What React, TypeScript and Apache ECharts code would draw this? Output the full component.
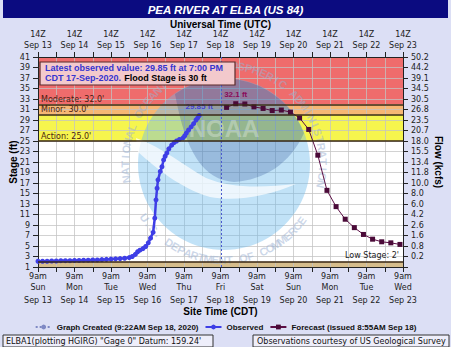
import React, { useEffect, useRef } from 'react';
import * as echarts from 'echarts';

// ---------------- data ----------------
const chartTitle = 'PEA RIVER AT ELBA (US 84)';
const dayNames = ['Sun', 'Mon', 'Tue', 'Wed', 'Thu', 'Fri', 'Sat', 'Sun', 'Mon', 'Tue', 'Wed'];
const dateLabels = ['Sep 13', 'Sep 14', 'Sep 15', 'Sep 16', 'Sep 17', 'Sep 18', 'Sep 19', 'Sep 20', 'Sep 21', 'Sep 22', 'Sep 23'];
const utcHourLabel = '14Z';
const siteHourLabel = '9am';
const flowLabels = ['50.2', '44.2', '39.1', '34.5', '30.5', '26.8', '23.5', '20.7', '18.0', '15.5', '13.4', '11.8', '10.0', '8.0', '6.0', '4.2', '2.6', '1.6', '0.8', '0.2'];

// hours after 9am CDT Sep 13
const observedHours = [0, 3, 6, 9, 12, 15, 18, 21, 24, 27, 30, 33, 36, 39, 42, 45, 48, 51, 54, 57, 60, 62, 64, 65.5, 67, 69, 70.8, 72.5, 74, 75.7, 76.8, 77.6, 78.3, 78.9, 80.4, 81.5, 82.6, 83.6, 84.7, 86, 87.9, 89.5, 91.1, 93, 95.4, 96.5, 97.5, 99, 100.7, 102.3, 103.9, 105, 106];
const observedStage = [2.1, 2.1, 2.1, 2.15, 2.15, 2.2, 2.2, 2.2, 2.25, 2.25, 2.3, 2.3, 2.35, 2.35, 2.4, 2.45, 2.5, 2.55, 2.6, 2.66, 2.8, 3.0, 3.4, 3.9, 4.2, 4.5, 4.9, 5.6, 6.5, 7.6, 10.3, 13.8, 16.0, 17.6, 19.2, 20.1, 21.4, 22.1, 22.7, 23.5, 24.2, 24.7, 25.0, 25.3, 25.6, 26.0, 26.5, 27.1, 27.7, 28.3, 29.0, 29.4, 29.85];
const forecastHours = [124, 130, 136, 142, 148, 154, 160, 166, 172, 178, 184, 190, 196, 202, 208, 214, 220, 226, 232, 238];
const forecastStage = [31.4, 32.1, 32.05, 31.5, 31.2, 30.8, 30.9, 30.5, 29.4, 27.2, 22.3, 15.6, 12.5, 10.1, 8.5, 7.2, 6.3, 5.8, 5.6, 5.3];

const thresholdNames = ['Moderate', 'Minor', 'Action'];
const thresholdStages = [32, 30, 25];
const lowStage = 2;
const floodStage = 30;
const graphCreatedHour = 120.37;
const latestObsText = '7:00 PM';
const latestObsDate = '17-Sep-2020';

const stageMin = 1;
const stageMax = 41;
const stageStep = 2;
const hourMax = 240;
const hourStep = 24;

// ---------------- styles ----------------
const fontV = '"DejaVu Sans", Verdana, sans-serif';
const fontA = '"Liberation Sans", Arial, sans-serif';
const gridColor = 'rgba(195,195,195,0.75)';
const axisColor = '#222';

// watermark shapes
const skyPath = 'M -49 -70 A 86 86 0 0 1 80 -31 C 66 0 40 16 10 18 C -20 16 -38 -10 -49 -70 Z';
const gullPath = 'M -88 -26 C -60 -16 -40 2 -18 14 C 6 24 36 24 72 20 C 44 32 12 38 -14 33 C -44 24 -68 4 -86 -12 Z';
let shapesRegistered = false;
function registerShapes() {
  if (shapesRegistered) return;
  echarts.graphic.registerShape('noaaSky', echarts.graphic.extendPath(skyPath, {}));
  echarts.graphic.registerShape('noaaGull', echarts.graphic.extendPath(gullPath, {}));
  shapesRegistered = true;
}

function arcText(text: string, cx: number, cy: number, R: number, startDeg: number, endDeg: number, top: boolean) {
  const n = text.length;
  const els: any[] = [];
  for (let i = 0; i < n; i++) {
    const ch = text[i];
    if (ch === ' ') continue;
    const deg = startDeg + ((endDeg - startDeg) * (i + 0.5)) / n;
    const t = (deg * Math.PI) / 180;
    els.push({
      type: 'text',
      x: cx + R * Math.cos(t),
      y: cy - R * Math.sin(t),
      rotation: top ? t - Math.PI / 2 : t + Math.PI / 2,
      z: 3,
      silent: true,
      style: {
        text: ch,
        fill: '#9ab0d2',
        opacity: 0.5,
        fontSize: 11,
        fontWeight: 'bold',
        fontFamily: fontA,
        align: 'center',
        verticalAlign: 'middle',
      },
    });
  }
  return els;
}

export default function App() {
  const ref = useRef<HTMLDivElement>(null);

  useEffect(() => {
    if (!ref.current) return;
    registerShapes();
    const chart = echarts.init(ref.current, undefined, { renderer: 'svg' });

    const obsLast = observedStage.length - 1;
    const observedData = observedHours.map((h, i) =>
      i === obsLast
        ? {
            value: [h, observedStage[i]],
            label: {
              show: true,
              formatter: `${observedStage[i]} ft`,
              position: 'top',
              distance: 3,
              color: '#4343d8',
              fontWeight: 'bold',
              fontSize: 8,
              fontFamily: fontA,
            },
          }
        : [h, observedStage[i]]
    );
    const fMax = Math.max(...forecastStage);
    const fMaxIdx = forecastStage.indexOf(fMax);
    const forecastData = forecastHours.map((h, i) =>
      i === fMaxIdx
        ? {
            value: [h, forecastStage[i]],
            label: {
              show: true,
              formatter: `${fMax.toFixed(1)} ft`,
              position: 'top',
              distance: 3,
              color: '#8a0a5a',
              fontWeight: 'bold',
              fontSize: 8,
              fontFamily: fontA,
            },
          }
        : [h, forecastStage[i]]
    );

    const bands = [
      { lo: thresholdStages[0], hi: stageMax, color: '#ef6c6c' },
      { lo: thresholdStages[1], hi: thresholdStages[0], color: '#f6b774' },
      { lo: thresholdStages[2], hi: thresholdStages[1], color: '#f6f54e' },
      { lo: stageMin, hi: lowStage, color: '#d6bd8c' },
    ];

    const thresholdLines: any[] = thresholdStages.map((v, i) => ({
      yAxis: v,
      label: { formatter: `${thresholdNames[i]}: ${v.toFixed(1)}'` },
    }));
    thresholdLines.push({
      yAxis: lowStage,
      label: { formatter: `Low Stage: ${lowStage}'`, position: 'insideEndTop', color: '#222', distance: [4, 2] },
    });

    const wmCx = 224;
    const wmCy = 164;
    const watermark: any[] = [
      { type: 'circle', shape: { cx: wmCx, cy: wmCy, r: 86 }, z: 3, silent: true, style: { fill: '#6bbbec', opacity: 0.42 } },
      { type: 'noaaSky', x: wmCx, y: wmCy, z: 3, silent: true, style: { fill: '#1a3f8a', opacity: 0.24 } },
      { type: 'noaaGull', x: wmCx, y: wmCy, z: 3, silent: true, style: { fill: '#ffffff', opacity: 0.7 } },
      {
        type: 'text', x: wmCx, y: wmCy - 36, z: 3, silent: true,
        style: { text: 'NOAA', fill: '#ffffff', opacity: 0.3, fontSize: 24, fontWeight: 'bold', fontFamily: fontA, align: 'center', verticalAlign: 'middle' },
      },
      ...arcText('NATIONAL OCEANIC AND ATMOSPHERIC ADMINISTRATION', wmCx, wmCy, 99, 191, -14, true),
      ...arcText('U.S. DEPARTMENT OF COMMERCE', wmCx, wmCy, 96, 212, 326, false),
    ];

    const option: any = {
      animation: false,
      backgroundColor: '#dcdff5',
      grid: { left: 36, right: 40, top: 57, bottom: 80, show: true, backgroundColor: '#ffffff', borderWidth: 0 },
      legend: {
        left: 'center',
        top: 318,
        itemWidth: 16,
        itemHeight: 6,
        itemGap: 6,
        selectedMode: false,
        textStyle: { fontFamily: fontA, fontWeight: 'bold', fontSize: 8, color: '#111' },
        data: ['Graph Created (9:22AM Sep 18, 2020)', 'Observed', 'Forecast (issued 8:55AM Sep 18)'],
      },
      xAxis: [
        {
          type: 'value', min: 0, max: hourMax, interval: hourStep, position: 'bottom', z: 2,
          axisLine: { show: true, onZero: false, lineStyle: { color: axisColor, width: 1 } },
          axisTick: { show: true, length: 5, lineStyle: { color: axisColor } },
          minorTick: { show: true, splitNumber: 2, length: 5, lineStyle: { color: axisColor } },
          splitLine: { show: true, lineStyle: { color: gridColor, width: 1 } },
          minorSplitLine: { show: true, lineStyle: { color: gridColor, width: 1 } },
          axisLabel: {
            margin: 4, lineHeight: 11, fontSize: 8, fontFamily: fontV, color: '#222',
            formatter: (v: number) => {
              const i = Math.round(v / hourStep);
              return `${siteHourLabel}\n${dayNames[i]}\n{d|${dateLabels[i]}}`;
            },
            rich: { d: { lineHeight: 14, fontSize: 8, fontFamily: fontV, color: '#222' } },
          },
          name: 'Site Time (CDT)', nameLocation: 'middle', nameGap: 39, nameMoveOverlap: false,
          nameTextStyle: { fontFamily: fontA, fontWeight: 'bold', fontSize: 10, color: '#000' },
        },
        {
          type: 'value', min: 0, max: hourMax, interval: hourStep, position: 'top', z: 2,
          axisLine: { show: true, onZero: false, lineStyle: { color: axisColor, width: 1 } },
          axisTick: { show: true, length: 5, lineStyle: { color: axisColor } },
          minorTick: { show: true, splitNumber: 2, length: 5, lineStyle: { color: axisColor } },
          splitLine: { show: false },
          axisLabel: {
            margin: 6, lineHeight: 11, fontSize: 8, fontFamily: fontV, color: '#222',
            formatter: (v: number) => {
              const i = Math.round(v / hourStep);
              return `${utcHourLabel}\n${dateLabels[i]}`;
            },
          },
          name: 'Universal Time (UTC)', nameLocation: 'middle', nameGap: 28, nameMoveOverlap: false,
          nameTextStyle: { fontFamily: fontA, fontWeight: 'bold', fontSize: 10, color: '#000' },
        },
      ],
      yAxis: [
        {
          type: 'value', min: stageMin, max: stageMax, interval: stageStep, position: 'left', z: 2,
          axisLine: { show: true, onZero: false, lineStyle: { color: axisColor, width: 1 } },
          axisTick: { show: true, length: 5, lineStyle: { color: axisColor } },
          splitLine: { show: true, lineStyle: { color: gridColor, width: 1 } },
          axisLabel: { margin: 8, fontSize: 8, fontFamily: fontV, color: '#222' },
          name: 'Stage (ft)', nameLocation: 'middle', nameGap: 20, nameMoveOverlap: false,
          nameTextStyle: { fontFamily: fontA, fontWeight: 'bold', fontSize: 10, color: '#000' },
        },
        {
          type: 'value', min: stageMin, max: stageMax, interval: stageStep, position: 'right', z: 2,
          axisLine: { show: true, onZero: false, lineStyle: { color: axisColor, width: 1 } },
          axisTick: { show: true, length: 5, lineStyle: { color: axisColor } },
          splitLine: { show: false },
          axisLabel: {
            margin: 8, fontSize: 8, fontFamily: fontV, color: '#222',
            formatter: (v: number) => flowLabels[Math.round((stageMax - v) / stageStep)] ?? '',
          },
          name: 'Flow (kcfs)', nameLocation: 'middle', nameGap: 30, nameRotate: -90, nameMoveOverlap: false,
          nameTextStyle: { fontFamily: fontA, fontWeight: 'bold', fontSize: 10, color: '#000' },
        },
      ],
      series: [
        {
          name: 'Graph Created (9:22AM Sep 18, 2020)',
          type: 'line', data: [], symbol: 'none', z: 4,
          color: '#7f89c4',
          lineStyle: { type: [2, 2], width: 1, color: '#7f89c4' },
          markLine: {
            silent: true, symbol: ['none', 'none'],
            label: { show: false },
            lineStyle: { color: '#4b5bd0', type: [2, 2], width: 1 },
            data: [{ xAxis: graphCreatedHour }],
          },
        },
        {
          name: 'Observed', type: 'line', z: 4,
          data: observedData,
          color: '#3e3ee6',
          symbol: 'circle', symbolSize: 5,
          lineStyle: { width: 2.5, color: '#3e3ee6' },
          itemStyle: { color: '#3e3ee6' },
          markArea: {
            silent: true,
            data: bands.map((b) => [{ yAxis: b.lo, itemStyle: { color: b.color, opacity: 1 } }, { yAxis: b.hi }]),
          },
          markLine: {
            silent: true, symbol: ['none', 'none'],
            lineStyle: { color: '#3a2916', width: 1.5, type: 'solid' },
            label: { show: true, position: 'insideStartTop', distance: [3, 1], fontFamily: fontV, fontSize: 8, color: '#4a1c10' },
            data: thresholdLines,
          },
        },
        {
          name: 'Forecast (issued 8:55AM Sep 18)', type: 'line', z: 4,
          data: forecastData,
          color: '#5c0f45',
          symbol: 'rect', symbolSize: 5,
          lineStyle: { width: 1, color: '#5c0f45' },
          itemStyle: { color: '#4a0a38' },
        },
      ],
      graphic: {
        elements: [
          ...watermark,
          { type: 'rect', shape: { x: 3, y: 0, width: 445, height: 18 }, z: 10, silent: true, style: { fill: '#0b0b80' } },
          {
            type: 'text', x: 225.5, y: 9.5, z: 11, silent: true,
            style: { text: chartTitle, fill: '#ffffff', fontSize: 11.5, fontWeight: 'bold', fontStyle: 'italic', fontFamily: fontA, align: 'center', verticalAlign: 'middle' },
          },
          {
            type: 'rect', shape: { x: 40, y: 62, width: 195, height: 23 }, z: 10, silent: true,
            style: { fill: '#f3c9cc', stroke: '#5a2a2a', lineWidth: 1.2 },
          },
          {
            type: 'text', x: 45, y: 73.5, z: 11, silent: true,
            style: {
              text: `{b|Latest observed value: ${observedStage[obsLast]} ft at ${latestObsText}}\n{b|CDT ${latestObsDate}.} {k|Flood Stage is ${floodStage} ft}`,
              align: 'left', verticalAlign: 'middle',
              rich: {
                b: { fill: '#3535d0', fontSize: 9, fontWeight: 'bold', fontFamily: fontA, lineHeight: 9.5 },
                k: { fill: '#000000', fontSize: 9, fontWeight: 'bold', fontFamily: fontA, lineHeight: 9.5 },
              },
            },
          },
          {
            type: 'rect', shape: { x: 3, y: 335, width: 210, height: 12 }, z: 10, silent: true,
            style: { fill: '#eeeefa', stroke: '#333', lineWidth: 1 },
          },
          {
            type: 'text', x: 6, y: 341.5, z: 11, silent: true,
            style: { text: `ELBA1(plotting HGIRG) "Gage 0" Datum: 159.24'`, fill: '#111', fontSize: 8, fontFamily: fontV, align: 'left', verticalAlign: 'middle' },
          },
          {
            type: 'rect', shape: { x: 253, y: 335, width: 196, height: 12 }, z: 10, silent: true,
            style: { fill: '#eeeefa', stroke: '#333', lineWidth: 1 },
          },
          {
            type: 'text', x: 257, y: 341.5, z: 11, silent: true,
            style: { text: 'Observations courtesy of US Geological Survey', fill: '#111', fontSize: 8, fontFamily: fontV, align: 'left', verticalAlign: 'middle' },
          },
        ],
      },
    };

    chart.setOption(option);
    return () => {
      chart.dispose();
    };
  }, []);

  return (
    <div
      ref={ref}
      style={{ position: 'fixed', left: 0, top: 0, width: 451, height: 347 }}
    />
  );
}
